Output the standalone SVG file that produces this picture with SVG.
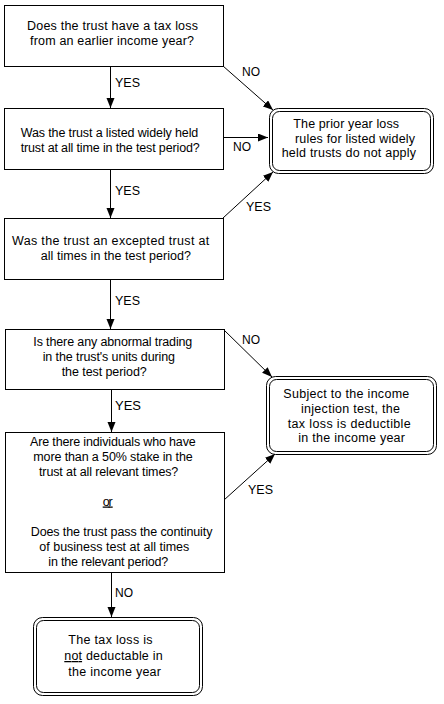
<svg xmlns="http://www.w3.org/2000/svg" width="444" height="704" viewBox="0 0 444 704">
<style>
.box{fill:#fff;stroke:#000;stroke-width:1}
.term{fill:none;stroke:#000;stroke-width:1}
.t{font-family:"Liberation Sans",Arial,sans-serif;font-size:12.5px;fill:#000}
.ln{stroke:#000;stroke-width:1;fill:none;marker-end:url(#ah)}
</style>
<defs>
<marker id="ah" markerUnits="userSpaceOnUse" markerWidth="11" markerHeight="9" refX="10" refY="4" orient="auto">
<path d="M0,0 L10,4 L0,8 z" fill="#000"/>
</marker>
</defs>
<rect width="444" height="704" fill="#fff"/>
<g id="connectors">
<line class="ln" x1="110.5" y1="66" x2="110.5" y2="108"/>
<line class="ln" x1="223" y1="66" x2="273" y2="110"/>
<text class="t" x="115" y="86.5" textLength="25" lengthAdjust="spacingAndGlyphs">YES</text>
<text class="t" x="242" y="75.5" textLength="18" lengthAdjust="spacingAndGlyphs">NO</text>
<line class="ln" x1="223" y1="137.5" x2="268" y2="137.5"/>
<text class="t" x="233" y="151" textLength="18" lengthAdjust="spacingAndGlyphs">NO</text>
<line class="ln" x1="110.5" y1="170" x2="110.5" y2="218"/>
<text class="t" x="115" y="195" textLength="25" lengthAdjust="spacingAndGlyphs">YES</text>
<line class="ln" x1="223" y1="218" x2="273" y2="172"/>
<text class="t" x="246" y="210.5" textLength="25" lengthAdjust="spacingAndGlyphs">YES</text>
<line class="ln" x1="110.5" y1="279" x2="110.5" y2="329"/>
<text class="t" x="115" y="305" textLength="25" lengthAdjust="spacingAndGlyphs">YES</text>
<line class="ln" x1="224" y1="330" x2="272" y2="377"/>
<text class="t" x="242" y="344" textLength="18" lengthAdjust="spacingAndGlyphs">NO</text>
<line class="ln" x1="111.5" y1="389" x2="111.5" y2="432"/>
<text class="t" x="115" y="410" textLength="26" lengthAdjust="spacingAndGlyphs">YES</text>
<line class="ln" x1="224" y1="500" x2="275" y2="454"/>
<text class="t" x="248" y="494" textLength="25" lengthAdjust="spacingAndGlyphs">YES</text>
<line class="ln" x1="111.5" y1="572" x2="111.5" y2="617"/>
<text class="t" x="115" y="596.5" textLength="18" lengthAdjust="spacingAndGlyphs">NO</text>
</g>
<g id="q1">
<rect class="box" x="4.5" y="5.5" width="219" height="61"/>
<text class="t" x="27" y="29.5" textLength="171" lengthAdjust="spacing">Does the trust have a tax loss</text>
<text class="t" x="30" y="44.5" textLength="164" lengthAdjust="spacing">from an earlier income year?</text>
</g>
<g id="q2">
<rect class="box" x="4.5" y="108.5" width="219" height="61"/>
<text class="t" x="20.7" y="137" textLength="177.6" lengthAdjust="spacing">Was the trust a listed widely held</text>
<text class="t" x="20.7" y="151.5" textLength="179" lengthAdjust="spacing">trust at all time in the test period?</text>
</g>
<g id="endA">
<rect class="term" x="269.5" y="108.5" width="164" height="65" rx="9"/>
<rect class="term" x="272.5" y="111.5" width="158" height="59" rx="7"/>
<text class="t" x="293.3" y="128" textLength="105.7" lengthAdjust="spacing">The prior year loss</text>
<text class="t" x="295" y="142.5" textLength="120" lengthAdjust="spacing">rules for listed widely</text>
<text class="t" x="281.7" y="157" textLength="134.3" lengthAdjust="spacing">held trusts do not apply</text>
</g>
<g id="q3">
<rect class="box" x="4.5" y="218.5" width="219" height="61"/>
<text class="t" x="12" y="244.5" textLength="197.3" lengthAdjust="spacing">Was the trust an excepted trust at</text>
<text class="t" x="40.7" y="259.5" textLength="150.3" lengthAdjust="spacing">all times in the test period?</text>
</g>
<g id="q4">
<rect class="box" x="5.5" y="329.5" width="219" height="60"/>
<text class="t" x="33.3" y="345.5" textLength="159" lengthAdjust="spacing">Is there any abnormal trading</text>
<text class="t" x="42.7" y="360.5" textLength="132.3" lengthAdjust="spacing">in the trust's units during</text>
<text class="t" x="61.7" y="375.5" textLength="85" lengthAdjust="spacing">the test period?</text>
</g>
<g id="endB">
<rect class="term" x="266.5" y="376.5" width="170" height="78" rx="9"/>
<rect class="term" x="269.5" y="379.5" width="164" height="72" rx="7"/>
<text class="t" x="283.3" y="398" textLength="126" lengthAdjust="spacing">Subject to the income</text>
<text class="t" x="301" y="413" textLength="99" lengthAdjust="spacing">injection test, the</text>
<text class="t" x="287.7" y="428" textLength="123" lengthAdjust="spacing">tax loss is deductible</text>
<text class="t" x="298.3" y="442" textLength="106.7" lengthAdjust="spacing">in the income year</text>
</g>
<g id="q5">
<rect class="box" x="5.5" y="432.5" width="219" height="140"/>
<text class="t" x="30" y="445.5" textLength="165.7" lengthAdjust="spacing">Are there individuals who have</text>
<text class="t" x="33.3" y="460.5" textLength="159.4" lengthAdjust="spacing">more than a 50% stake in the</text>
<text class="t" x="39" y="475.5" textLength="139.3" lengthAdjust="spacing">trust at all relevant times?</text>
<text class="t" x="102.7" y="505.5" textLength="10" lengthAdjust="spacing" text-decoration="underline">or</text>
<text class="t" x="30.7" y="535.5" textLength="181.7" lengthAdjust="spacing">Does the trust pass the continuity</text>
<text class="t" x="39.3" y="550.5" textLength="150" lengthAdjust="spacing">of business test at all times</text>
<text class="t" x="48.3" y="565.5" textLength="120" lengthAdjust="spacing">in the relevant period?</text>
</g>
<g id="endC">
<rect class="term" x="33.5" y="617.5" width="169" height="78" rx="9"/>
<rect class="term" x="36.5" y="620.5" width="163" height="72" rx="7"/>
<text class="t" x="68.3" y="644" textLength="84.3" lengthAdjust="spacing">The tax loss is</text>
<text class="t" x="64.3" y="660" textLength="98.3" lengthAdjust="spacing"><tspan text-decoration="underline">not</tspan> deductable in</text>
<text class="t" x="68.3" y="676" textLength="92.7" lengthAdjust="spacing">the income year</text>
</g>
</svg>
